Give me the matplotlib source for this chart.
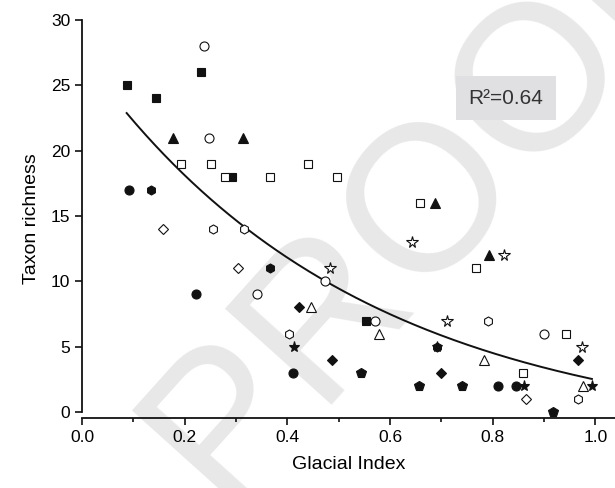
import matplotlib
matplotlib.use("Agg")
import matplotlib.pyplot as plt
import numpy as np
from matplotlib.ticker import MultipleLocator

plt.rcParams['font.family'] = ['Liberation Sans', 'DejaVu Sans']

# scatter data, one group per marker style (Glacial Index, taxon richness)
filled_square_x = [0.087, 0.144, 0.231, 0.293, 0.553]
filled_square_y = [25, 24, 26, 18, 7]
open_square_x = [0.193, 0.251, 0.278, 0.441, 0.367, 0.497, 0.658, 0.767, 0.942, 0.858]
open_square_y = [19, 19, 18, 19, 18, 18, 16, 11, 6, 3]
filled_triangle_x = [0.178, 0.313, 0.687, 0.793]
filled_triangle_y = [21, 21, 16, 12]
open_triangle_x = [0.446, 0.579, 0.782, 0.976]
open_triangle_y = [8, 6, 4, 2]
filled_circle_x = [0.092, 0.222, 0.410, 0.811, 0.846]
filled_circle_y = [17, 9, 3, 2, 2]
open_circle_x = [0.238, 0.248, 0.340, 0.474, 0.571, 0.900]
open_circle_y = [28, 21, 9, 10, 7, 6]
open_hexagon_x = [0.256, 0.316, 0.404, 0.791, 0.965]
open_hexagon_y = [14, 14, 6, 7, 1]
filled_hexagon_x = [0.134, 0.366, 0.691]
filled_hexagon_y = [17, 11, 5]
open_diamond_x = [0.158, 0.304, 0.865]
open_diamond_y = [14, 11, 1]
filled_diamond_x = [0.423, 0.487, 0.700, 0.965]
filled_diamond_y = [8, 4, 3, 4]
filled_pentagon_x = [0.543, 0.657, 0.741, 0.918]
filled_pentagon_y = [3, 2, 2, 0]
filled_star_x = [0.412, 0.861, 0.993, 0.691]
filled_star_y = [5, 2, 2, 5]
open_star_x = [0.483, 0.642, 0.710, 0.822, 0.973]
open_star_y = [11, 13, 7, 12, 5]

# fitted exponential decay y = a*exp(b*x) + c
fit_a, fit_b, fit_c = 29.3, -1.88, -2.0
fit_range = (0.087, 0.993)
r2_text = "R²=0.64"

fig = plt.figure(figsize=(6.15, 4.88), dpi=100)
ax = fig.add_axes([0.1333, 0.1434, 0.8667, 0.8156])
ax.patch.set_alpha(0)

# faint "PROOF" stamp behind the data
ax.text(0.70, 0.60, "PROOF", transform=fig.transFigure, fontsize=150, color="#e8e8e8",
        rotation=48, ha="center", va="center", zorder=0, clip_on=False)

groups = [
    (filled_square_x, filled_square_y, "s", True, 5.5),
    (open_square_x, open_square_y, "s", False, 5.5),
    (filled_triangle_x, filled_triangle_y, "^", True, 7),
    (open_triangle_x, open_triangle_y, "^", False, 7),
    (filled_circle_x, filled_circle_y, "o", True, 6.5),
    (open_circle_x, open_circle_y, "o", False, 6.5),
    (open_hexagon_x, open_hexagon_y, "h", False, 6.5),
    (filled_hexagon_x, filled_hexagon_y, "h", True, 6.5),
    (open_diamond_x, open_diamond_y, "D", False, 5.5),
    (filled_diamond_x, filled_diamond_y, "D", True, 5.5),
    (filled_pentagon_x, filled_pentagon_y, "p", True, 7),
    (filled_star_x, filled_star_y, "*", True, 8),
    (open_star_x, open_star_y, "*", False, 8.5),
]
for gx, gy, m, filled, ms in groups:
    ax.plot(gx, gy, linestyle="none", marker=m, markersize=ms,
            markerfacecolor="#111111" if filled else "white",
            markeredgecolor="#111111", markeredgewidth=0.8, zorder=3)

xs = np.linspace(fit_range[0], fit_range[1], 200)
ax.plot(xs, fit_a * np.exp(fit_b * xs) + fit_c, color="#111111", lw=1.4, zorder=2)

ax.text(0.826, 24.0, r2_text, fontsize=15, color="#333333", ha="center", va="center",
        bbox=dict(boxstyle="square,pad=0.6", facecolor="#e0e0e2", edgecolor="none"), zorder=4)

ax.set_xlim(0, 1.038)
ax.set_ylim(-0.46, 30)
ax.xaxis.set_minor_locator(MultipleLocator(0.1))
ax.yaxis.set_major_locator(MultipleLocator(5))
ax.set_xticks(np.arange(0, 1.01, 0.2))
ax.set_xticklabels(["0.0", "0.2", "0.4", "0.6", "0.8", "1.0"])
ax.tick_params(which="major", direction="out", length=5, width=1.2, labelsize=12.5, color="#111111")
ax.tick_params(which="minor", direction="out", length=3, width=1.2, color="#111111")

for side in ["top", "right"]:
    ax.spines[side].set_visible(False)
for side in ["left", "bottom"]:
    ax.spines[side].set_linewidth(1.3)
    ax.spines[side].set_color("#111111")
ax.spines["left"].set_bounds(0, 30)

ax.set_xlabel("Glacial Index", fontsize=14, labelpad=8)
ax.set_ylabel("Taxon richness", fontsize=14, labelpad=8)

fig.savefig("out.png", dpi=100)
plt.close(fig)
